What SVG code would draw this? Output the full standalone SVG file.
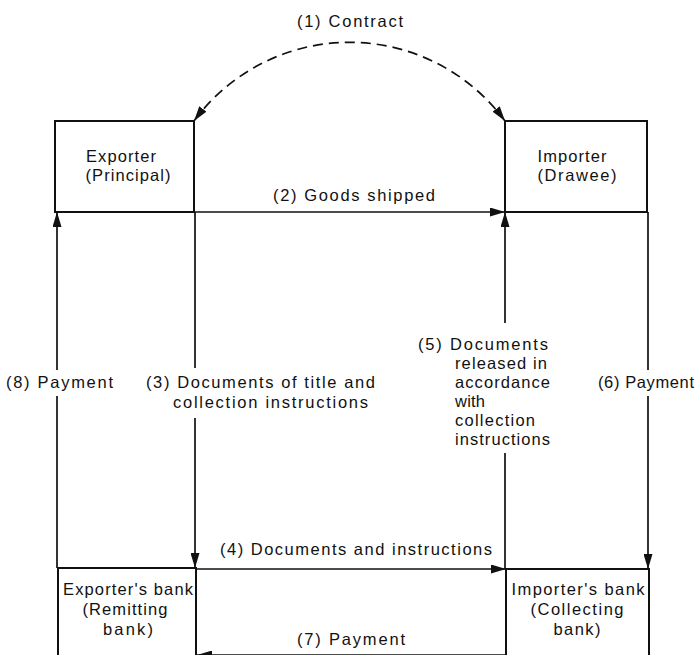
<svg xmlns="http://www.w3.org/2000/svg" width="696" height="655" viewBox="0 0 696 655">
<style>
text{font-family:"Liberation Sans",Arial,sans-serif;font-size:16.5px;fill:#111}
.box{fill:#fff;stroke:#111;stroke-width:2}
.ln{fill:none;stroke:#111;stroke-width:1.7}
.dash{fill:none;stroke:#111;stroke-width:1.7;stroke-dasharray:10 6}
.c{text-anchor:middle}
</style>
<defs>
<marker id="ah" viewBox="0 0 15 9" refX="15" refY="4.5" markerWidth="15" markerHeight="9" markerUnits="userSpaceOnUse" orient="auto-start-reverse">
<path d="M0,0 L15,4.5 L0,9 Z" fill="#111"/>
</marker>
</defs>
<rect width="696" height="655" fill="#fff"/>
<g id="exporter">
<rect class="box" x="55" y="121" width="139" height="91"/>
<text class="c" x="121" y="162" textLength="70" lengthAdjust="spacing">Exporter</text>
<text class="c" x="128" y="181" textLength="85" lengthAdjust="spacing">(Principal)</text>
</g>
<g id="importer">
<rect class="box" x="505" y="121" width="142" height="91"/>
<text class="c" x="572" y="162" textLength="69" lengthAdjust="spacing">Importer</text>
<text class="c" x="577" y="181" textLength="79" lengthAdjust="spacing">(Drawee)</text>
</g>
<g id="exporters-bank">
<rect class="box" x="58" y="568" width="138" height="110"/>
<text class="c" x="128" y="595" textLength="130" lengthAdjust="spacing">Exporter's bank</text>
<text class="c" x="125" y="615" textLength="85" lengthAdjust="spacing">(Remitting</text>
<text class="c" x="128" y="635" textLength="50" lengthAdjust="spacing">bank)</text>
</g>
<g id="importers-bank">
<rect class="box" x="506" y="569" width="143" height="110"/>
<text class="c" x="578" y="595" textLength="133" lengthAdjust="spacing">Importer's bank</text>
<text class="c" x="577" y="615" textLength="93" lengthAdjust="spacing">(Collecting</text>
<text class="c" x="577" y="635" textLength="47" lengthAdjust="spacing">bank)</text>
</g>
<g id="connectors">
<path class="dash" d="M194,121 A193,193 0 0 1 505,121" marker-start="url(#ah)" marker-end="url(#ah)"/>
<path class="ln" d="M194,212 H505" marker-end="url(#ah)"/>
<path class="ln" d="M195,212 V368 M195,418 V568" marker-end="url(#ah)"/>
<path class="ln" d="M57,568 V396 M57,370 V212" marker-end="url(#ah)"/>
<path class="ln" d="M505,569 V453 M505,323 V212" marker-end="url(#ah)"/>
<path class="ln" d="M648,212 V370 M648,396 V569" marker-end="url(#ah)"/>
<path class="ln" d="M196,569 H506" marker-end="url(#ah)"/>
<path class="ln" d="M506,655 H197" marker-end="url(#ah)"/>
</g>
<g id="labels">
<text x="297" y="27" textLength="106" lengthAdjust="spacing">(1)  Contract</text>
<text x="273" y="201" textLength="162" lengthAdjust="spacing">(2)  Goods shipped</text>
<text x="6" y="388" textLength="107" lengthAdjust="spacing">(8)  Payment</text>
<text x="146" y="388" textLength="229" lengthAdjust="spacing">(3)  Documents of title and</text>
<text x="173" y="408" textLength="195" lengthAdjust="spacing">collection instructions</text>
<text x="418" y="350" textLength="130" lengthAdjust="spacing">(5)  Documents</text>
<text x="455" y="369" textLength="92" lengthAdjust="spacing">released in</text>
<text x="455" y="388" textLength="95" lengthAdjust="spacing">accordance</text>
<text x="455" y="407" textLength="30" lengthAdjust="spacing">with</text>
<text x="455" y="426" textLength="80" lengthAdjust="spacing">collection</text>
<text x="455" y="445" textLength="95" lengthAdjust="spacing">instructions</text>
<text x="598" y="388" textLength="96" lengthAdjust="spacing">(6)  Payment</text>
<text x="220" y="555" textLength="272" lengthAdjust="spacing">(4)  Documents and instructions</text>
<text x="297" y="645" textLength="108" lengthAdjust="spacing">(7)  Payment</text>
</g>
</svg>
